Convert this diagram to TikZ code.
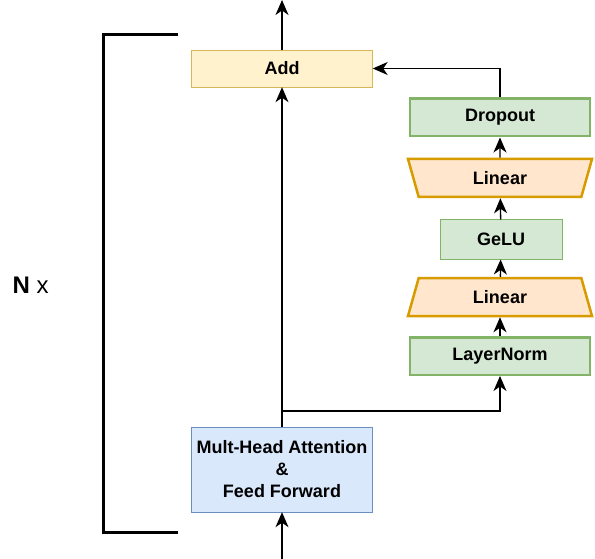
\documentclass[tikz,border=0pt]{standalone}
\usepackage{fontspec}
\setmainfont{Liberation Sans}
\usepackage{xcolor}
\definecolor{AddFill}{HTML}{FFF2CC}
\definecolor{AddLine}{HTML}{D6B656}
\definecolor{AttnFill}{HTML}{DAE8FC}
\definecolor{AttnLine}{HTML}{6C8EBF}
\definecolor{MlpFill}{HTML}{D5E8D4}
\definecolor{MlpLine}{HTML}{82B366}
\definecolor{LinFill}{HTML}{FFE6CC}
\definecolor{LinLine}{HTML}{D79B00}
\usepackage{tikz}
\usetikzlibrary{arrows.meta,positioning,shapes.geometric}

\begin{document}
\begin{tikzpicture}[
  x=1pt,y=-1pt,
  every node/.style={font=\fontsize{18}{22}\selectfont\bfseries},
  blk/.style={draw,inner sep=0pt,align=center},
  addbox/.style={blk,draw=AddLine,fill=AddFill,minimum width=181pt,minimum height=37pt},
  attnbox/.style={blk,draw=AttnLine,fill=AttnFill,minimum width=181pt,minimum height=85pt},
  mlpbox/.style={blk,draw=MlpLine,fill=MlpFill,line width=2.5pt,minimum width=180pt,minimum height=37.5pt},
  linbox/.style={blk,trapezium,trapezium stretches body,trapezium angle=51,draw=LinLine,fill=LinFill,line width=2.5pt,minimum width=184pt,minimum height=38pt},
  arr/.style={-{Stealth[length=15pt,width=13pt,inset=4.5pt]},line width=1.3pt}
]
\useasboundingbox (0,0) rectangle (595,559);
% main path
\node[addbox] (add) at (282,68.5) {Add};
\node[attnbox] (attn) at (282,469.5) {Mult-Head Attention\\\&\\Feed Forward};
% mlp column
\node[mlpbox] (norm) at (500,356) {LayerNorm};
\node[linbox] (lin1) at (500,297) {Linear};
\node[blk,draw=MlpLine,fill=MlpFill,line width=1pt,minimum width=122pt,minimum height=39pt] (gelu) at (501,239.5) {GeLU};
\node[linbox,shape border rotate=180] (lin2) at (500,178) {Linear};
\node[mlpbox] (drop) at (500,117.5) {Dropout};
\coordinate (in) at (282,559);
\coordinate (out) at (282,0);
\coordinate (split) at (282,411);
\draw[arr] (in) -- (attn);
\draw[arr] (attn) -- (add);
\draw[arr] (add) -- (out);
\draw[arr] (split) -| (norm);
\draw[arr] (norm) -- (lin1);
\draw[arr] (lin1) -- (gelu);
\draw[arr] (gelu) -- (lin2);
\draw[arr] (lin2) -- (drop);
\draw[arr] (drop.north) |- (add.east);
% repeat bracket
\coordinate (btop) at (178,35);
\coordinate (bbot) at (178,532);
\draw[line width=3pt] (btop) -| (103,532) -- (bbot);
\node[font=\fontsize{24}{28}\selectfont,anchor=west] (rep) at (9,285) {\textbf{N} x};
\end{tikzpicture}
\end{document}
